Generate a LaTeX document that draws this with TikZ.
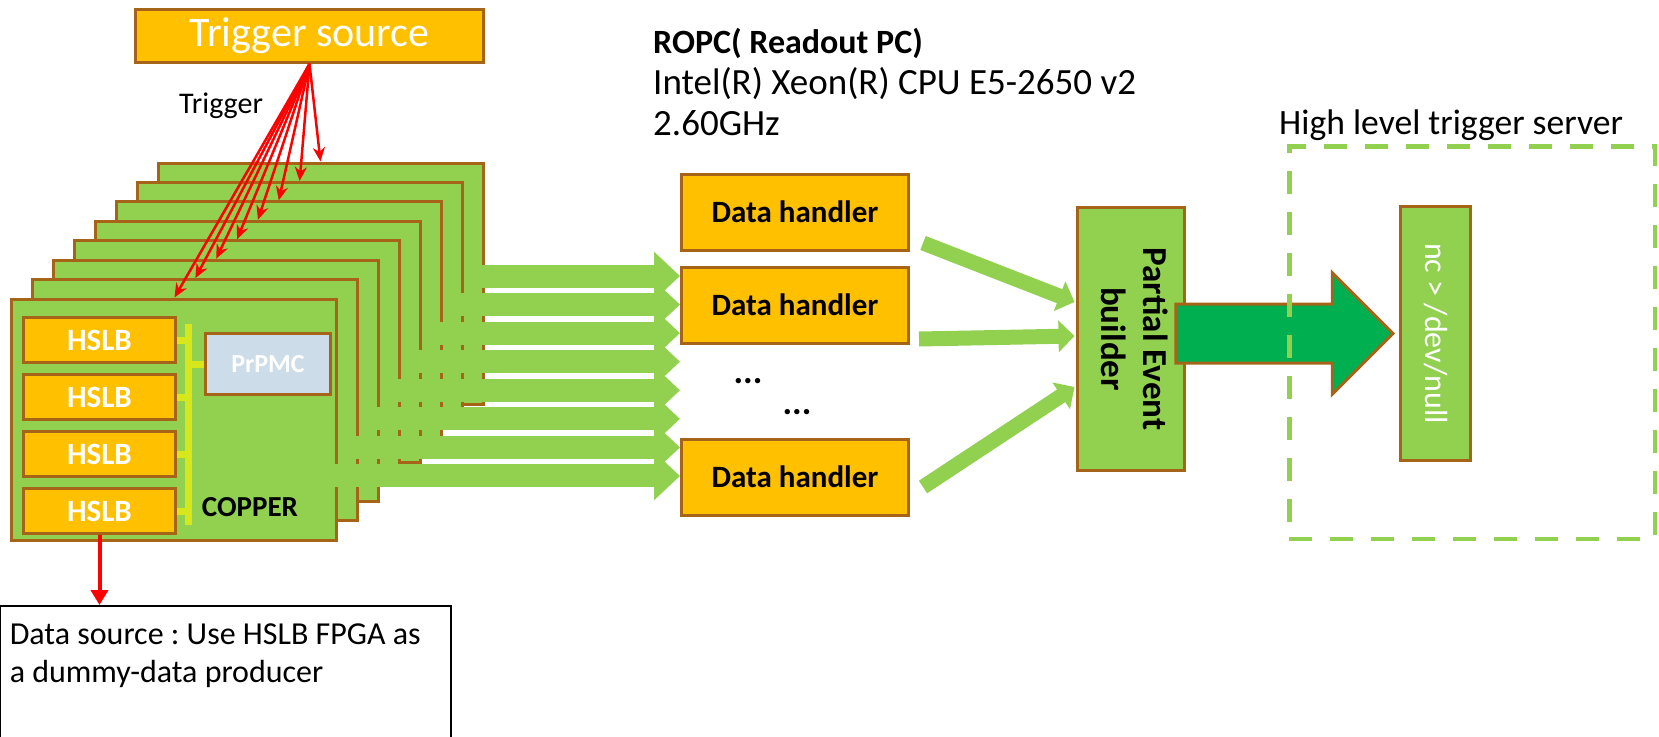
\documentclass[tikz,border=0pt]{standalone}
\usepackage{fontspec}
\setmainfont{Carlito}
\usepackage{graphicx}
\usetikzlibrary{arrows.meta, positioning, calc, shapes.arrows}

\definecolor{amber}{RGB}{255,192,0}
\definecolor{rim}{RGB}{166,100,24}
\definecolor{leaf}{RGB}{146,208,80}
\definecolor{deepleaf}{RGB}{0,176,80}
\definecolor{pmcblue}{RGB}{204,221,233}
\definecolor{busyellow}{RGB}{214,232,28}

\begin{document}
\begin{tikzpicture}[x=1pt, y=-1pt,
  board/.style={draw=rim, line width=3pt, fill=leaf, anchor=north west, inner sep=0pt, minimum width=325pt, minimum height=241pt},
  card/.style={draw=rim, line width=3pt, fill=amber, text=white, inner sep=0pt, minimum width=152pt, minimum height=45pt, font=\fontsize{31}{37}\selectfont\bfseries},
  handler/.style={draw=rim, line width=3pt, fill=amber, inner sep=0pt, minimum width=227pt, minimum height=76pt, font=\fontsize{31}{37}\selectfont\bfseries},
  pmc/.style={draw=rim, line width=3pt, fill=pmcblue, text=white, inner sep=0pt, minimum width=125pt, minimum height=61pt, font=\fontsize{26}{31}\selectfont\bfseries},
  tall/.style={draw=rim, line width=3pt, fill=leaf, inner sep=0pt},
  fwd/.style={single arrow, draw=rim, fill=deepleaf, line width=3pt, inner xsep=0pt, inner ysep=28pt, minimum height=217pt, single arrow head extend=31pt, single arrow tip angle=90, anchor=tip},
  bus/.style={draw=busyellow, line width=7pt},
  feed/.style={leaf, line width=23pt, -{Triangle[length=26pt,width=47pt]}},
  merge/.style={leaf, line width=15pt, -{Triangle[length=16pt,width=31pt]}},
  trig/.style={red, line width=2.5pt, -{Stealth[length=14pt,width=12pt]}},
  drop/.style={red, line width=4pt, -{Triangle[length=15pt,width=17pt]}},
  txt/.style={inner sep=0pt, align=flush left}
]
\useasboundingbox (0,0) rectangle (1659,736);

\foreach \i in {0,...,7}
  \node[board] (cu\i) at ({156.5-20.86*\i},{161.5+19.43*\i}) {};

\node[card] (hslb1) at (99.5,340) {HSLB};
\node[card, below=9pt of hslb1] (hslb2) {HSLB};
\node[card, below=9pt of hslb2] (hslb3) {HSLB};
\node[card, below=9pt of hslb3] (hslb4) {HSLB};
\coordinate (busTop) at (188,324);
\coordinate (busBot) at (188,525);
\draw[bus] (busTop) -- (busBot);
\node[pmc] (prpmc) at (268,364) {PrPMC};
\foreach \i in {1,...,4}
  \draw[bus] (hslb\i.east) -- (hslb\i.east -| busTop);
\draw[bus] (prpmc.west -| busTop) -- (prpmc.west);
\node[inner sep=0pt, font=\fontsize{29}{35}\selectfont\bfseries] (copper) at (250,507) {COPPER};

\node[handler] (dh1) at (795,212) {Data handler};
\node[handler, below=14pt of dh1] (dh2) {Data handler};
\node[handler, below=93pt of dh2] (dh3) {Data handler};
\node[inner sep=0pt, font=\fontsize{36}{43}\selectfont\bfseries] (dots1) at (748,381) {...};
\node[inner sep=0pt, font=\fontsize{36}{43}\selectfont\bfseries] (dots2) at (797,412) {...};

\foreach \i in {0,...,7}
  \coordinate (out\i) at ($(cu\i.north east)+(-18.5,{114.5+9.14*\i})$);
\foreach \i in {0,...,7}
  \draw[feed] (out\i) -- (out\i -| dh1.west);

\node[draw=rim, line width=3pt, fill=amber, text=white, inner sep=0pt, minimum width=348pt, minimum height=53pt, font=\fontsize{42}{50}\selectfont] (trg) at (309.5,36) {Trigger source};
\node[txt, anchor=base west, font=\fontsize{30}{36}\selectfont] (triglbl) at (179,113) {Trigger};
\foreach \i in {0,...,7}
  \draw[trig] (trg.south) -- (cu\i.north);

\node[txt, anchor=base west, font=\fontsize{37}{41}\selectfont] (ropc) at (653,135) {{\fontsize{34}{41}\selectfont\bfseries ROPC( Readout PC)}\\Intel(R) Xeon(R) CPU E5-2650 v2\\2.60GHz};

\node[tall, minimum width=107pt, minimum height=263pt, font=\fontsize{35}{42}\selectfont\bfseries] (peb) at (1131,339)
  {\rotatebox{-90}{\begin{tabular}{@{}c@{}}Partial Event\\builder\end{tabular}}};
\draw[merge] ($(dh1.east)+(13,31)$) -- ($(peb.west)+(-1.5,-37)$);
\draw[merge] ($(dh2.east)+(9,34)$) -- ($(peb.west)+(-1.5,-3)$);
\draw[merge] ($(dh3.east)+(13,10)$) -- ($(peb.west)+(-1.5,48)$);

\node[tall, minimum width=70pt, minimum height=254pt, text=white, font=\fontsize{32}{38}\selectfont] (nc) at (1435.5,333.5)
  {\rotatebox{-90}{nc > /dev/null}};
\node[fwd] (fwd) at ($(nc.west)+(-4,0)$) {};

\node[draw=leaf, line width=4.5pt, dash pattern=on 23pt off 18pt, minimum width=365.5pt, minimum height=392.5pt] (hlt) at (1472,342.5) {};
\node[txt, anchor=base west, font=\fontsize{35.6}{43}\selectfont] (hltlbl) at ($(hlt.north west)+(-8,-9.5)$) {High level trigger server};

\node[draw=black, line width=1.5pt, anchor=north west, inner xsep=10pt, inner ysep=18pt, text width=431pt, align=flush left, font=\fontsize{32}{38.4}\selectfont\frenchspacing] (dsrc) at (-1,605)
  {Data source : Use HSLB FPGA as\\a dummy-data producer\\[80pt]\mbox{}};
\draw[drop] (hslb4.south) -- (hslb4.south |- dsrc.north);
\end{tikzpicture}
\end{document}
